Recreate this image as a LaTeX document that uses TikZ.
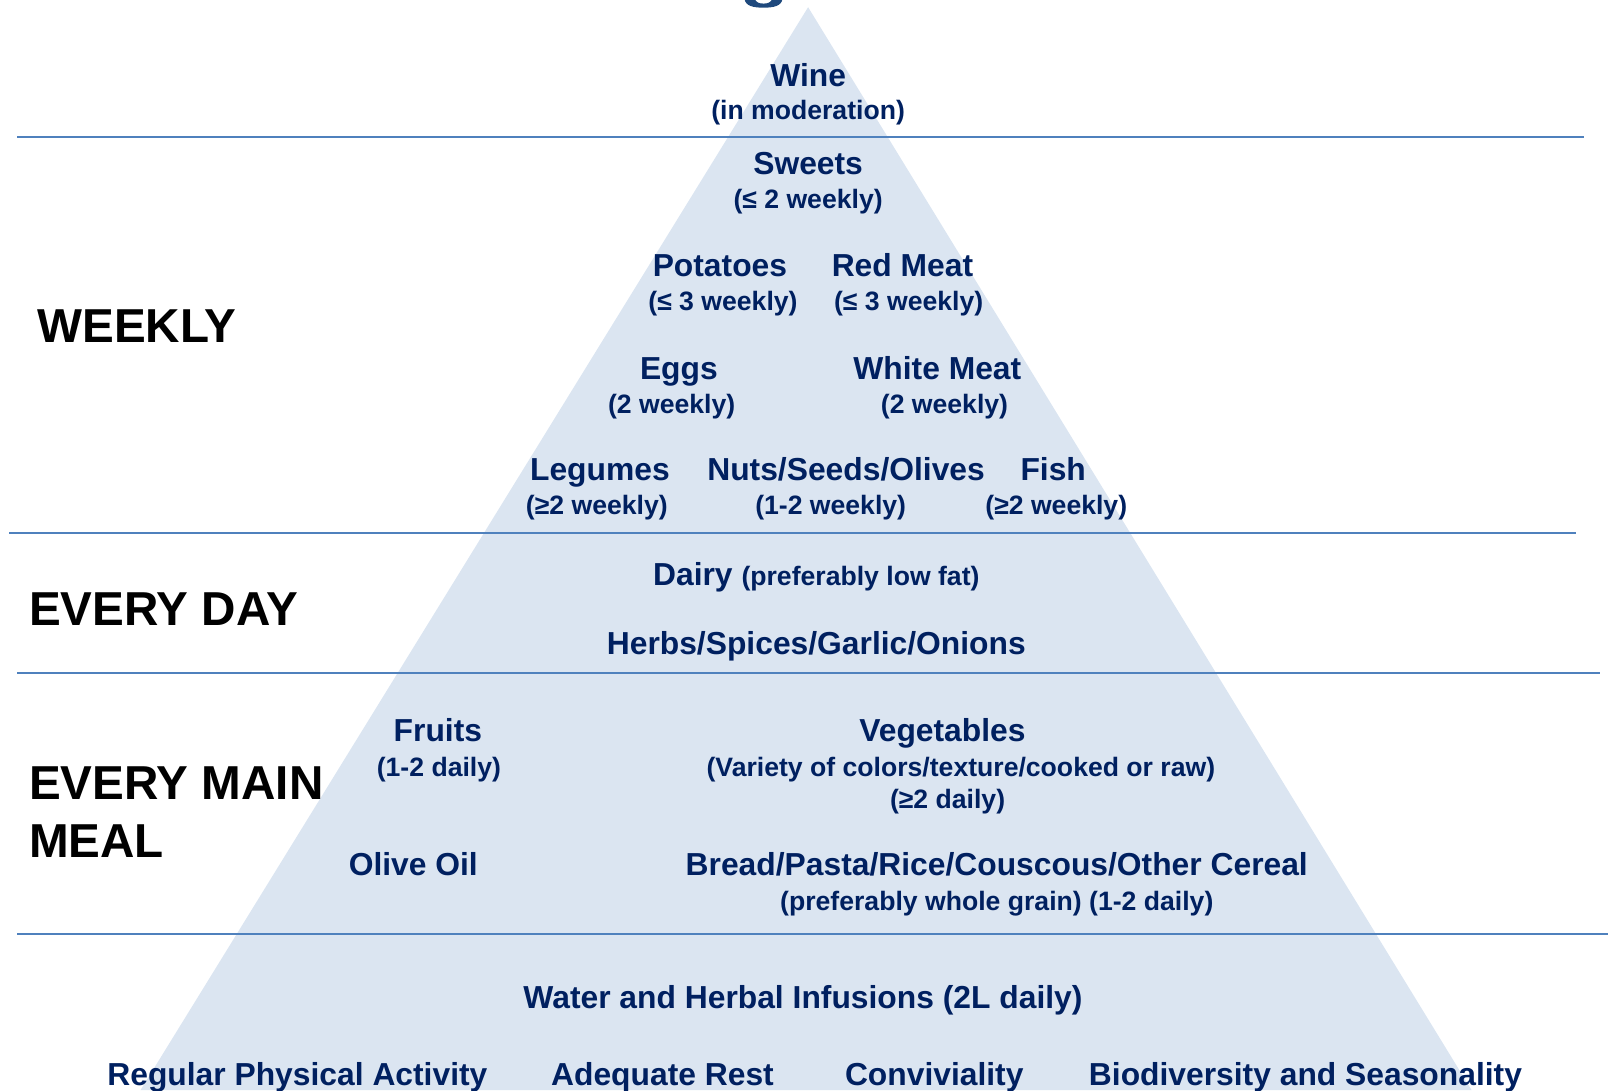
\documentclass[tikz,border=0pt]{standalone}
\usepackage{fontspec}
\setmainfont{Liberation Sans}
\definecolor{pyrfill}{RGB}{219,229,241}
\definecolor{rulecol}{RGB}{79,129,189}
\definecolor{foodblue}{RGB}{0,32,96}
\definecolor{titleblue}{RGB}{31,73,125}
\tikzset{
  food/.style={font=\bfseries\fontsize{15.9}{19}\selectfont, text=foodblue, anchor=base, inner sep=0pt},
  amount/.style={font=\bfseries\fontsize{13.3}{16}\selectfont, text=foodblue, anchor=base, inner sep=0pt},
  freq/.style={font=\bfseries\fontsize{23.8}{28.7}\selectfont, anchor=base west, align=left, inner sep=0pt},
  sepline/.style={rulecol, line width=1pt}
}
\begin{document}
\begin{tikzpicture}[x=0.5127pt, y=-0.5127pt]
        \useasboundingbox (0,0) rectangle (1568,1063);
        % Pyramid and the cut-off title letter above it
        \fill[pyrfill] (137,1063) -- (788,7) -- (1435,1063) -- cycle;
        \fill[titleblue] (726,-1) .. controls (727,6) and (735,7.5) .. (744.5,7.5) .. controls (754,7.5) and (762,6) .. (763,-1)
                -- (753,-1) .. controls (752,2) and (749,3.5) .. (744.5,3.5) .. controls (740,3.5) and (737,2) .. (736,-1) -- cycle;

        % Separator rules between the frequency bands
        \draw[sepline] (17,134) -- (1545,134);
        \draw[sepline] (9,520) -- (1537,520);
        \draw[sepline] (17,656) -- (1560,656);
        \draw[sepline] (17,911) -- (1568,911);

        % Frequency labels
        \node[freq] (weekly) at (36,334) {WEEKLY};
        \node[freq] (everyday) at (28,610) {EVERY DAY};
        \node[freq, anchor=west] (mainmeal) at (28,792) {EVERY MAIN\\MEAL};

        % Top of the pyramid
        \node[food] (wine) at (788,84) {Wine};
        \node[amount] (wineamt) at (788,117) {(in moderation)};
        \node[food] (sweets) at (788,170) {Sweets};
        \node[amount] (sweetsamt) at (788,203) {(≤ 2 weekly)};

        % Weekly foods
        \node[food] (potatoes) at (702,270) {Potatoes};
        \node[amount] (potatoesamt) at (705,303) {(≤ 3 weekly)};
        \node[food] (redmeat) at (880,270) {Red Meat};
        \node[amount] (redmeatamt) at (886,303) {(≤ 3 weekly)};
        \node[food] (eggs) at (662,370) {Eggs};
        \node[amount] (eggsamt) at (655,403) {(2 weekly)};
        \node[food] (whitemeat) at (914,370) {White Meat};
        \node[amount] (whitemeatamt) at (921,403) {(2 weekly)};
        \node[food] (legumes) at (585,469) {Legumes};
        \node[amount] (legumesamt) at (582,502) {(≥2 weekly)};
        \node[food] (nuts) at (825,469) {Nuts/Seeds/Olives};
        \node[amount] (nutsamt) at (810,502) {(1-2 weekly)};
        \node[food] (fish) at (1027,469) {Fish};
        \node[amount] (fishamt) at (1030,502) {(≥2 weekly)};

        % Every day
        \node[food] (dairy) at (796,571) {Dairy {\fontsize{13.3}{16}\selectfont(preferably low fat)}};
        \node[food] (herbs) at (796,638) {Herbs/Spices/Garlic/Onions};

        % Every main meal
        \node[food] (fruits) at (427,723) {Fruits};
        \node[amount] (fruitsamt) at (428,757) {(1-2 daily)};
        \node[food] (vegetables) at (919,723) {Vegetables};
        \node[amount] (variety) at (937,757) {(Variety of colors/texture/cooked or raw)};
        \node[amount] (vegetablesamt) at (924,788) {(≥2 daily)};
        \node[food] (oliveoil) at (403,854) {Olive Oil};
        \node[food] (bread) at (972,854) {Bread/Pasta/Rice/Couscous/Other Cereal};
        \node[amount] (breadamt) at (972,888) {(preferably whole grain) (1-2 daily)};

        % Base of the pyramid
        \node[food] (water) at (783,983) {Water and Herbal Infusions (2L daily)};
        \node[food] (activity) at (290,1058) {Regular Physical Activity};
        \node[food] (rest) at (646,1058) {Adequate Rest};
        \node[food] (conviviality) at (911,1058) {Conviviality};
        \node[food] (biodiversity) at (1273,1058) {Biodiversity and Seasonality};
\end{tikzpicture}
\end{document}
